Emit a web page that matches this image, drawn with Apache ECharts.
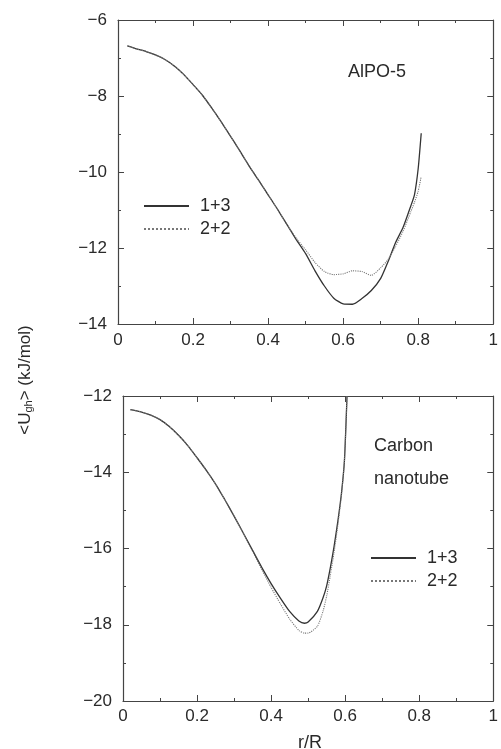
<!DOCTYPE html>
<html>
<head>
<meta charset="utf-8">
<script src="https://cdn.jsdelivr.net/npm/echarts@6/dist/echarts.min.js"></script>
<style>
  html, body { margin: 0; padding: 0; background: #fff; }
  #chart { width: 501px; height: 749px; }
</style>
</head>
<body>
<div id="chart"></div>
<script>
// AlPO-5 panel (top)
var xTop = [0.025, 0.05, 0.075, 0.1, 0.125, 0.15, 0.175, 0.2, 0.225, 0.25, 0.275, 0.3, 0.325, 0.35, 0.375, 0.4, 0.425, 0.45, 0.475, 0.5, 0.525, 0.55, 0.575, 0.6, 0.625, 0.65, 0.675, 0.7, 0.72, 0.74, 0.76, 0.78, 0.79, 0.8, 0.808];
var top13 = [-6.68, -6.76, -6.83, -6.92, -7.04, -7.21, -7.43, -7.70, -7.98, -8.32, -8.68, -9.06, -9.45, -9.85, -10.22, -10.60, -10.98, -11.38, -11.78, -12.15, -12.6, -13.0, -13.32, -13.47, -13.48, -13.33, -13.12, -12.8, -12.35, -11.85, -11.45, -10.9, -10.6, -9.9, -8.98];
var top22 = [-6.68, -6.76, -6.83, -6.92, -7.04, -7.21, -7.43, -7.70, -7.98, -8.32, -8.68, -9.06, -9.45, -9.85, -10.22, -10.60, -10.98, -11.38, -11.74, -12.05, -12.38, -12.62, -12.70, -12.68, -12.60, -12.62, -12.72, -12.52, -12.3, -11.95, -11.55, -11.05, -10.8, -10.5, -10.12];

// Carbon nanotube panel (bottom)
var xBot = [0.02, 0.05, 0.075, 0.1, 0.125, 0.15, 0.175, 0.2, 0.225, 0.25, 0.275, 0.3, 0.325, 0.35, 0.375, 0.4, 0.425, 0.45, 0.475, 0.49, 0.5, 0.525, 0.54, 0.55, 0.56, 0.57, 0.58, 0.59, 0.598, 0.605];
var bot13 = [-12.36, -12.42, -12.5, -12.62, -12.8, -13.03, -13.3, -13.62, -13.95, -14.31, -14.72, -15.15, -15.6, -16.05, -16.5, -16.92, -17.3, -17.65, -17.9, -17.96, -17.93, -17.65, -17.3, -16.98, -16.5, -15.95, -15.3, -14.55, -13.7, -12.0];
var bot22 = [-12.36, -12.42, -12.5, -12.62, -12.8, -13.03, -13.3, -13.62, -13.95, -14.31, -14.72, -15.15, -15.6, -16.07, -16.56, -17.02, -17.45, -17.85, -18.15, -18.22, -18.22, -18.04, -17.65, -17.25, -16.7, -16.1, -15.4, -14.6, -13.7, -12.0];

var FONT = "Liberation Sans, Arial, sans-serif";
var INK = "#2a2a2a";

function pairs(xs, ys) {
  return xs.map(function (x, i) { return [x, ys[i]]; });
}
function minusFmt(v) {
  return (v < 0 ? "\u2212" : "") + Math.abs(v);
}

function xAxisFor(grid, pos, labels, margin) {
  return {
    type: "value", gridIndex: grid, position: pos, min: 0, max: 1, interval: 0.2,
    axisLine: { show: true, onZero: false, lineStyle: { color: "#444", width: 1.2 } },
    axisTick: { show: true, inside: true, length: 6, lineStyle: { color: "#444" } },
    minorTick: { show: true, splitNumber: 2, length: 3, lineStyle: { color: "#444" } },
    splitLine: { show: false },
    axisLabel: { show: labels, color: INK, fontSize: 17, fontFamily: FONT, margin: margin }
  };
}
function yAxisFor(grid, pos, min, max, labels) {
  return {
    type: "value", gridIndex: grid, position: pos, min: min, max: max, interval: 2,
    axisLine: { show: true, onZero: false, lineStyle: { color: "#444", width: 1.2 } },
    axisTick: { show: true, inside: true, length: 6, lineStyle: { color: "#444" } },
    minorTick: { show: true, splitNumber: 2, length: 3, lineStyle: { color: "#444" } },
    splitLine: { show: false },
    axisLabel: { show: labels, color: INK, fontSize: 17, fontFamily: FONT, margin: 11, formatter: minusFmt }
  };
}

function legendAt(left, top) {
  return {
    orient: "vertical", left: left, top: top, padding: 0, itemGap: 5,
    itemWidth: 45, itemHeight: 14, selectedMode: false,
    itemStyle: { opacity: 0 },
    textStyle: { color: INK, fontSize: 18, fontFamily: FONT, padding: [0, 0, 0, 6] },
    data: ["1+3", "2+2"]
  };
}

var solid = { color: "#333", width: 1.3, type: "solid" };
var dotted = { color: "#777", width: 1.1, type: "dotted" };

var chart = echarts.init(document.getElementById("chart"));
chart.setOption({
  animation: false,
  backgroundColor: "#fff",
  grid: [
    { left: 118, top: 20, width: 379, height: 304 },
    { left: 123, top: 396, width: 375, height: 305 }
  ],
  xAxis: [
    xAxisFor(0, "bottom", true, 8), xAxisFor(0, "top", false, 8),
    xAxisFor(1, "bottom", true, 7), xAxisFor(1, "top", false, 7)
  ],
  yAxis: [
    yAxisFor(0, "left", -14, -6, true), yAxisFor(0, "right", -14, -6, false),
    yAxisFor(1, "left", -20, -12, true), yAxisFor(1, "right", -20, -12, false)
  ],
  legend: [legendAt(143, 197), legendAt(370, 549)],
  graphic: [
    { type: "text", x: 348, y: 72, style: { text: "AlPO-5", fill: INK, font: "18px " + FONT, verticalAlign: "middle" } },
    { type: "text", x: 374, y: 446, style: { text: "Carbon", fill: INK, font: "18px " + FONT, verticalAlign: "middle" } },
    { type: "text", x: 374, y: 479, style: { text: "nanotube", fill: INK, font: "18px " + FONT, verticalAlign: "middle" } },
    { type: "text", x: 310, y: 743, style: { text: "r/R", fill: INK, font: "18px " + FONT, align: "center", verticalAlign: "middle" } },
    {
      type: "text", x: 25, y: 380, rotation: Math.PI / 2,
      style: {
        text: "<U{sub|gh}> (kJ/mol)", fill: INK, font: "17px " + FONT,
        align: "center", verticalAlign: "middle",
        rich: { sub: { fontSize: 11, fontFamily: FONT, fill: INK, verticalAlign: "bottom", padding: [7, 0, 0, 0] } }
      }
    }
  ],
  series: [
    { name: "1+3", type: "line", xAxisIndex: 0, yAxisIndex: 0, symbol: "none", smooth: 0.2, lineStyle: solid, itemStyle: { color: "#333" }, data: pairs(xTop, top13) },
    { name: "2+2", type: "line", xAxisIndex: 0, yAxisIndex: 0, symbol: "none", smooth: 0.2, lineStyle: dotted, itemStyle: { color: "#777" }, data: pairs(xTop, top22) },
    { name: "1+3", type: "line", xAxisIndex: 2, yAxisIndex: 2, symbol: "none", smooth: 0.2, lineStyle: solid, itemStyle: { color: "#333" }, data: pairs(xBot, bot13) },
    { name: "2+2", type: "line", xAxisIndex: 2, yAxisIndex: 2, symbol: "none", smooth: 0.2, lineStyle: dotted, itemStyle: { color: "#777" }, data: pairs(xBot, bot22) }
  ]
});
</script>
</body>
</html>
